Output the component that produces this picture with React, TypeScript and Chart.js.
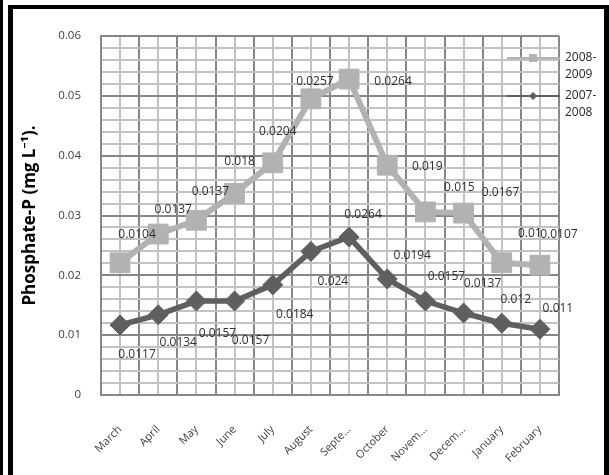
import { useEffect, useRef } from "react";
import { Chart, registerables } from "chart.js";

Chart.register(...registerables);

const months = ["March", "April", "May", "June", "July", "August", "Septe...", "October", "Novem...", "Decem...", "January", "February"];
const values0809 = [0.0221, 0.0269, 0.0292, 0.0337, 0.0388, 0.0495, 0.0528, 0.0384, 0.0306, 0.0304, 0.0221, 0.0217];
const labels0809 = ["0.0104", "0.0137", "0.0137", "0.018", "0.0204", "0.0257", "0.0264", "0.019", "0.015", "0.0167", "0.01", "0.0107"];
const values0708 = [0.0117, 0.0134, 0.0157, 0.0157, 0.0184, 0.024, 0.0264, 0.0194, 0.0157, 0.0137, 0.012, 0.011];
const labels0708 = ["0.0117", "0.0134", "0.0157", "0.0157", "0.0184", "0.024", "0.0264", "0.0194", "0.0157", "0.0137", "0.012", "0.011"];
const seriesNames = ["2008-2009", "2007-2008"];

// label offsets (px) relative to each point
const offsets0809 = [[17, -28], [15, -24], [14, -29], [5, -32], [5, -31], [4, -17], [44, 2], [40, 1], [34, -24], [37, -21], [28, -29], [19, -31]];
const offsets0708 = [[17, 30], [20, 28], [21, 33], [16, 40], [22, 30], [22, 30], [14, -22], [25, -23], [21, -24], [19, -29], [14, -24], [18, -21]];

const LIGHT = "#b2b2b2";
const DARK = "#5f5f5f";
const MAJOR = "#878787";
const MINOR = "#c2c2c2";
const FONT = "'Open Sans', 'Noto Sans', sans-serif";

const dataLabelPlugin = {
  id: "dataLabels",
  afterDatasetsDraw(chart: any) {
    const ctx = chart.ctx;
    ctx.save();
    ctx.font = `12px ${FONT}`;
    ctx.fillStyle = "#303030";
    ctx.textAlign = "center";
    ctx.textBaseline = "middle";
    const sets = [
      { labels: labels0809, offs: offsets0809 },
      { labels: labels0708, offs: offsets0708 },
    ];
    sets.forEach((s, di) => {
      const meta = chart.getDatasetMeta(di);
      meta.data.forEach((pt: any, i: number) => {
        ctx.fillText(s.labels[i], pt.x + s.offs[i][0], pt.y + s.offs[i][1]);
      });
    });
    ctx.restore();
  },
};

const legendPlugin = {
  id: "customLegend",
  afterDraw(chart: any) {
    const ctx = chart.ctx;
    ctx.save();
    const items = [
      { color: LIGHT, style: "rect", y: 58, lines: ["2008-", "2009"] },
      { color: DARK, style: "diamond", y: 96, lines: ["2007-", "2008"] },
    ];
    items.forEach((it) => {
      ctx.strokeStyle = it.color;
      ctx.lineWidth = 2;
      ctx.beginPath();
      ctx.moveTo(507, it.y);
      ctx.lineTo(560, it.y);
      ctx.stroke();
      ctx.fillStyle = it.color;
      if (it.style === "rect") {
        ctx.fillRect(529, it.y - 4, 8, 8);
      } else {
        ctx.beginPath();
        ctx.moveTo(533, it.y - 4);
        ctx.lineTo(537, it.y);
        ctx.lineTo(533, it.y + 4);
        ctx.lineTo(529, it.y);
        ctx.closePath();
        ctx.fill();
      }
      ctx.fillStyle = "#262626";
      ctx.font = `12px ${FONT}`;
      ctx.textAlign = "left";
      ctx.textBaseline = "middle";
      ctx.fillText(it.lines[0], 565, it.y);
      ctx.fillText(it.lines[1], 565, it.y + 17);
    });
    ctx.restore();
  },
};

function isMajor(v: number) {
  return Math.abs(v * 100 - Math.round(v * 100)) < 1e-6;
}

export default function App() {
  const ref = useRef<HTMLCanvasElement | null>(null);

  useEffect(() => {
    if (!ref.current) return;
    const chart = new Chart(ref.current, {
      type: "line",
      data: {
        labels: months,
        datasets: [
          {
            label: seriesNames[0],
            data: values0809,
            xAxisID: "x",
            yAxisID: "y",
            borderColor: LIGHT,
            backgroundColor: LIGHT,
            borderWidth: 6,
            pointStyle: "rect",
            pointRadius: 14,
            pointBorderWidth: 1,
            pointBackgroundColor: LIGHT,
            pointBorderColor: LIGHT,
            tension: 0,
          },
          {
            label: seriesNames[1],
            data: values0708,
            xAxisID: "x",
            yAxisID: "y",
            borderColor: DARK,
            backgroundColor: DARK,
            borderWidth: 5.5,
            pointStyle: "rectRot",
            pointRadius: 10,
            pointBorderWidth: 1,
            pointBackgroundColor: DARK,
            pointBorderColor: DARK,
            tension: 0,
          },
        ],
      },
      options: {
        animation: false,
        responsive: false,
        maintainAspectRatio: false,
        layout: { padding: { left: 0, top: 36, right: 50, bottom: 0 } },
        plugins: { legend: { display: false }, tooltip: { enabled: false } },
        scales: {
          x: {
            type: "category",
            position: "bottom",
            offset: true,
            grid: { offset: true, color: MAJOR, lineWidth: 2, drawTicks: false, z: -1 },
            border: { display: true, color: MAJOR, width: 2 },
            ticks: {
              autoSkip: false,
              minRotation: 45,
              maxRotation: 45,
              padding: 28,
              color: "#404040",
              font: { family: FONT, size: 11 },
            },
            afterFit(scale: any) {
              scale.height = 80;
            },
          },
          xc: {
            type: "category",
            position: "bottom",
            offset: true,
            grid: { offset: false, color: MINOR, lineWidth: 2, drawTicks: false, z: -2 },
            border: { display: false },
            ticks: { display: false },
            afterFit(scale: any) {
              scale.height = 0;
            },
          },
          y: {
            type: "linear",
            min: 0,
            max: 0.06,
            grid: {
              color: (c: any) => (isMajor(c.tick.value) ? MAJOR : MINOR),
              lineWidth: 2,
              drawTicks: false,
              z: -1,
            },
            border: { display: true, color: MAJOR, width: 2 },
            ticks: {
              stepSize: 0.002,
              maxTicksLimit: 100,
              autoSkip: false,
              padding: 20,
              color: "#404040",
              font: { family: FONT, size: 11.5 },
              callback: (v: any) => (isMajor(Number(v)) ? String(Number(Number(v).toFixed(2))) : ""),
            },
            title: {
              display: true,
              text: "Phosphate-P (mg L⁻¹).",
              color: "#000000",
              font: { family: FONT, size: 17, weight: "bold" },
              padding: { top: 20, bottom: 0 },
            },
            afterFit(scale: any) {
              scale.width = 101;
            },
          },
        },
      },
      plugins: [dataLabelPlugin, legendPlugin],
    } as any);
    return () => chart.destroy();
  }, []);

  return (
    <div style={{ position: "fixed", left: 0, top: 0, width: 609, height: 475, background: "#ffffff", overflow: "hidden" }}>
      <canvas ref={ref} width={609} height={475} style={{ position: "absolute", left: 0, top: 0, width: 609, height: 475 }} />
      <div style={{ position: "absolute", left: 0, top: 0, width: 3, height: 475, background: "#000" }} />
      <div style={{ position: "absolute", left: 8, top: 5, width: 5, height: 470, background: "#000" }} />
      <div style={{ position: "absolute", left: 8, top: 5, width: 601, height: 4, background: "#000" }} />
      <div style={{ position: "absolute", left: 604, top: 5, width: 5, height: 470, background: "#000" }} />
    </div>
  );
}
